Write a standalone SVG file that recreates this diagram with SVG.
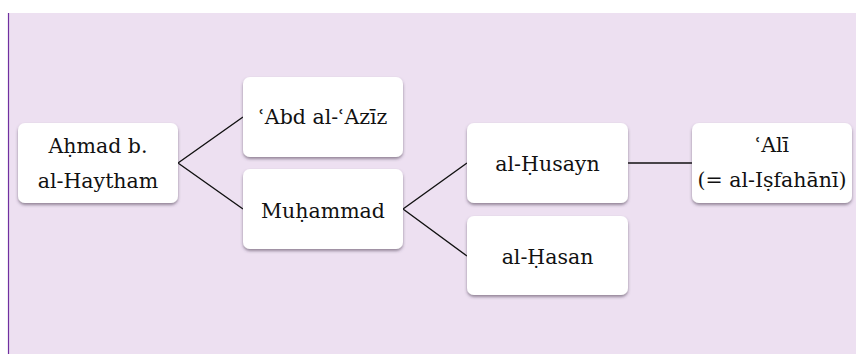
<svg xmlns="http://www.w3.org/2000/svg" width="856" height="354" viewBox="0 0 856 354">
<defs>
<filter id="sh" x="-10%" y="-10%" width="120%" height="130%">
<feDropShadow dx="0" dy="2" stdDeviation="1.5" flood-color="#4a3a50" flood-opacity="0.55"/>
</filter>
</defs>
<rect x="8" y="13" width="848" height="341" fill="#EDE0F1"/>
<line x1="8.5" y1="13" x2="8.5" y2="354" stroke="#7030A0" stroke-width="1.2"/>
<g id="connectors" stroke="#111111" stroke-width="1.4" fill="none">
<path d="M178 163 L243 117 M178 163 L243 209"/>
<path d="M403 209 L467 163 M403 209 L467 256"/>
<path d="M628 163 L692 163"/>
</g>
<g id="ahmad">
<rect x="18" y="123" width="160" height="80" rx="7" fill="#ffffff" filter="url(#sh)"/>
<text x="98" y="152.5" font-family="DejaVu Serif, Liberation Serif, serif" font-size="20.5" fill="#111111" text-anchor="middle">Aḥmad b.</text>
<text x="98" y="187.5" font-family="DejaVu Serif, Liberation Serif, serif" font-size="20.5" fill="#111111" text-anchor="middle">al-Haytham</text>
</g>
<g id="abd">
<rect x="243" y="77" width="160" height="80" rx="7" fill="#ffffff" filter="url(#sh)"/>
<text x="323" y="123.5" font-family="DejaVu Serif, Liberation Serif, serif" font-size="20.5" fill="#111111" text-anchor="middle">ʿAbd al-ʿAzīz</text>
</g>
<g id="muhammad">
<rect x="243" y="169" width="160" height="80" rx="7" fill="#ffffff" filter="url(#sh)"/>
<text x="323" y="217.5" font-family="DejaVu Serif, Liberation Serif, serif" font-size="20.5" fill="#111111" text-anchor="middle">Muḥammad</text>
</g>
<g id="husayn">
<rect x="467" y="123" width="161" height="80" rx="7" fill="#ffffff" filter="url(#sh)"/>
<text x="547.5" y="171" font-family="DejaVu Serif, Liberation Serif, serif" font-size="20.5" fill="#111111" text-anchor="middle">al-Ḥusayn</text>
</g>
<g id="hasan">
<rect x="467" y="216" width="161" height="79" rx="7" fill="#ffffff" filter="url(#sh)"/>
<text x="547.5" y="263.5" font-family="DejaVu Serif, Liberation Serif, serif" font-size="20.5" fill="#111111" text-anchor="middle">al-Ḥasan</text>
</g>
<g id="ali">
<rect x="692" y="123" width="160" height="80" rx="7" fill="#ffffff" filter="url(#sh)"/>
<text x="772" y="152" font-family="DejaVu Serif, Liberation Serif, serif" font-size="20.5" fill="#111111" text-anchor="middle">ʿAlī</text>
<text x="772" y="187" font-family="DejaVu Serif, Liberation Serif, serif" font-size="20.5" fill="#111111" text-anchor="middle">(= al-Iṣfahānī)</text>
</g>
</svg>
